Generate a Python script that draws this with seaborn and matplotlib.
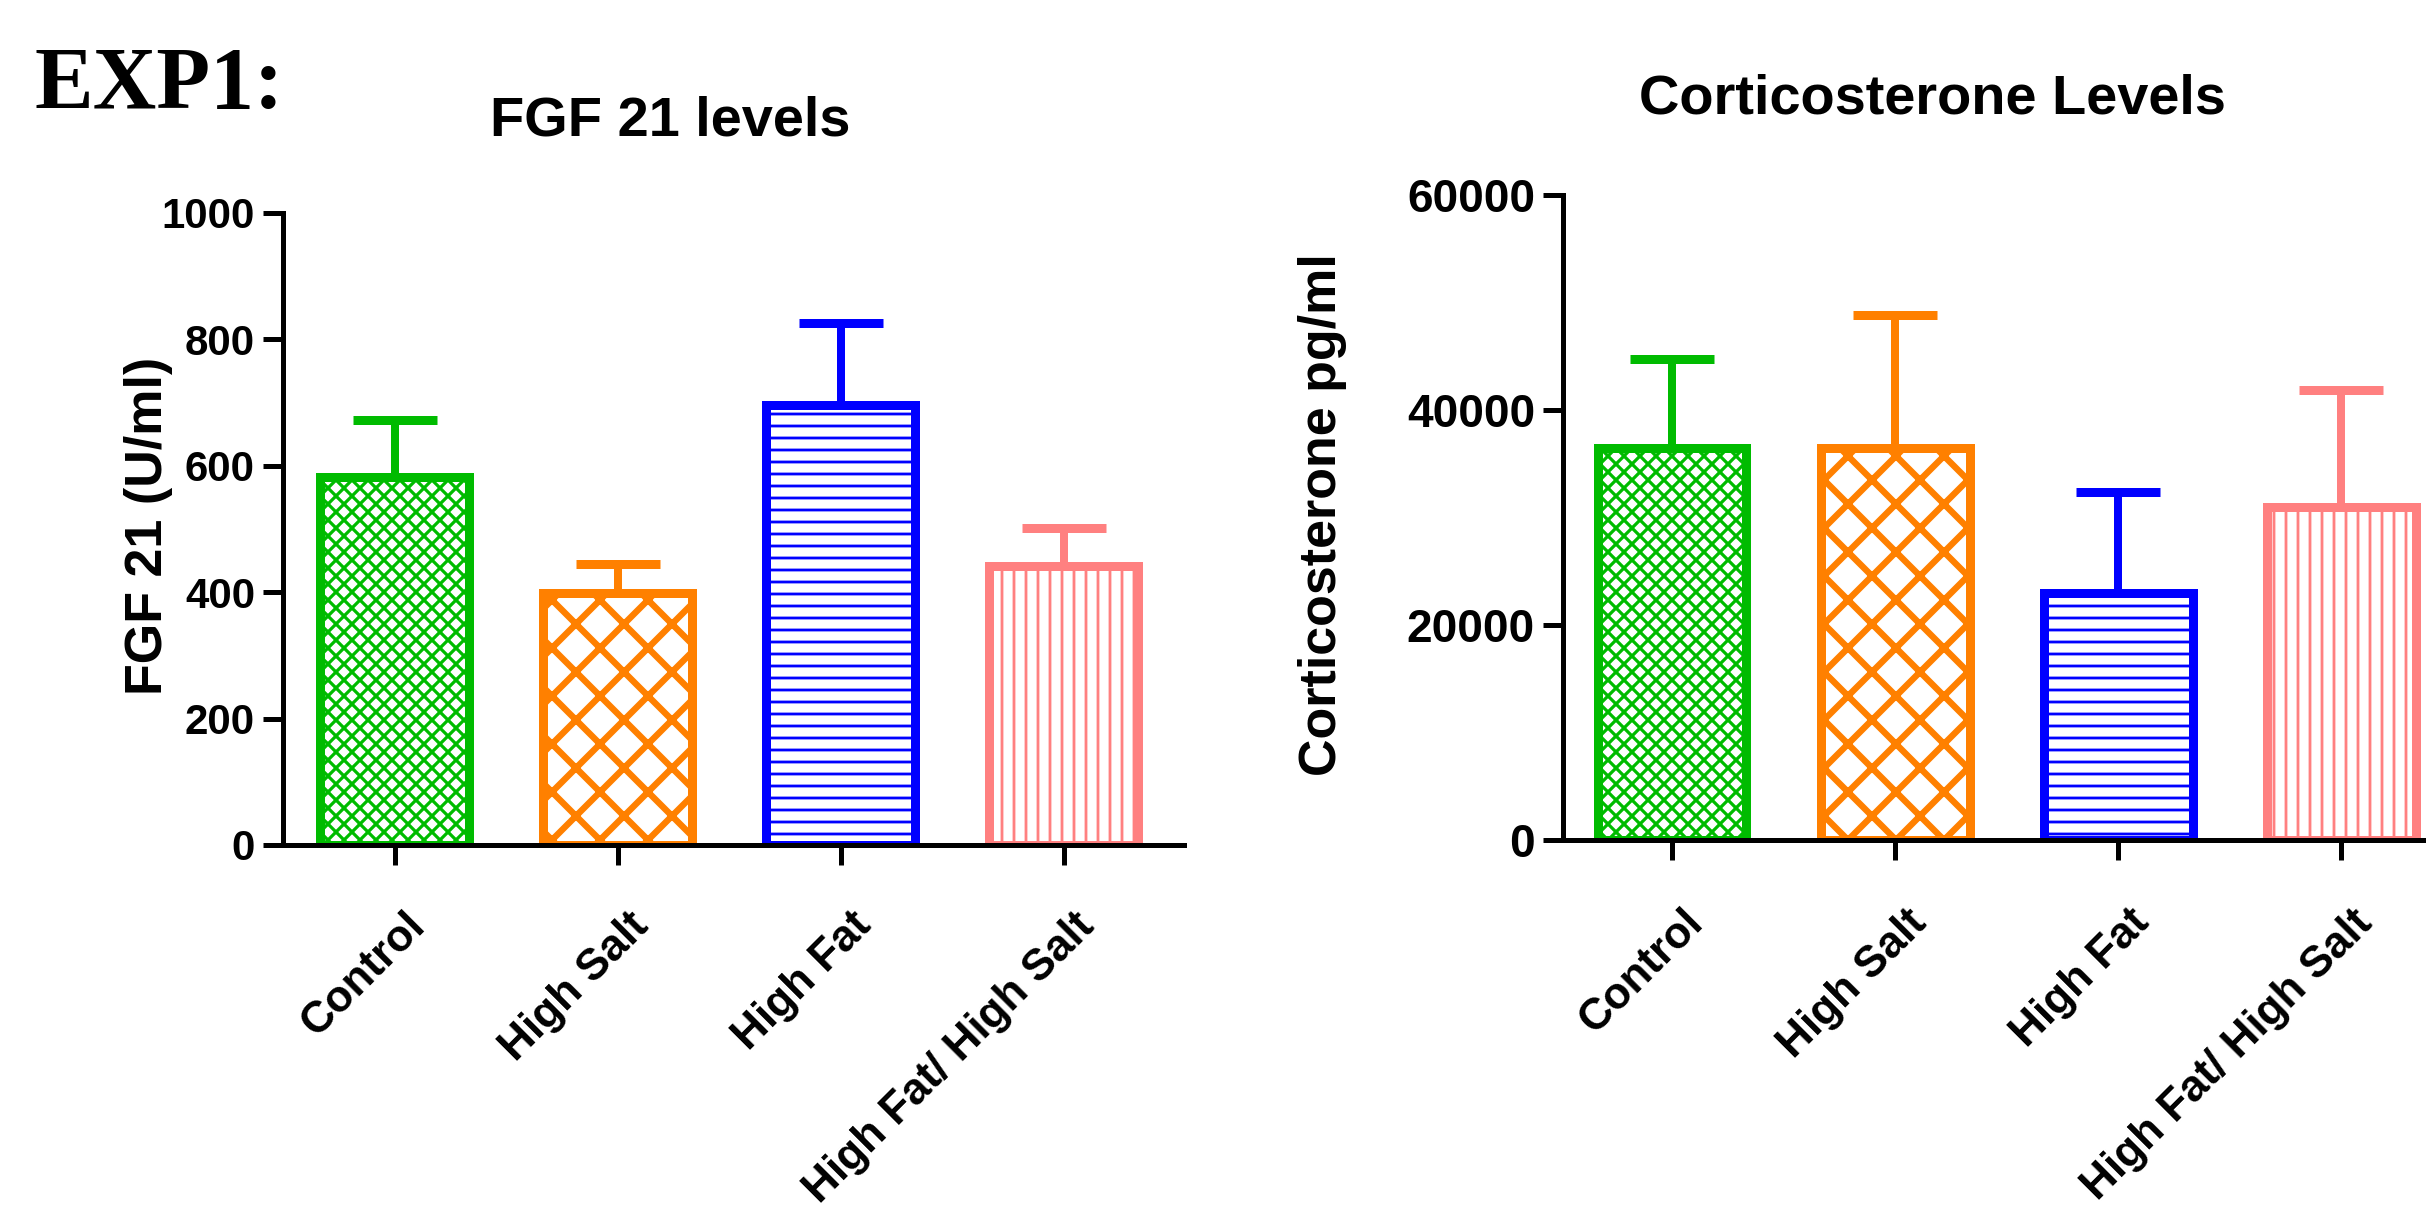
import numpy as np
import pandas as pd
import matplotlib
matplotlib.use('Agg')
import matplotlib.pyplot as plt
import matplotlib.transforms as mtrans
import seaborn as sns

# data
groups = ['Control', 'High Salt', 'High Fat', 'High Fat/ High Salt']
fgf21_mean = [582, 398, 696, 442]
fgf21_sem = [91, 47, 130, 60]
cort_mean = [36500, 36500, 23000, 31000]
cort_sem = [8200, 12300, 9400, 10900]
fgf21_ticks = [0, 200, 400, 600, 800, 1000]
cort_ticks = [0, 20000, 40000, 60000]

colors = ['#00BB00', '#FF8000', '#0000FF', '#FF8080']
hatches = ['xxx', 'x', '--', '||']
hatch_lw = [1.6, 3.2, 1.4, 1.4]

sns.set_style('ticks')
plt.rcParams['font.family'] = ['Liberation Sans', 'DejaVu Sans']
plt.rcParams['font.weight'] = 'bold'
plt.rcParams['axes.labelweight'] = 'bold'
plt.rcParams['hatch.linewidth'] = 1.6
for k in ['text.color', 'axes.labelcolor', 'xtick.color', 'ytick.color', 'axes.edgecolor']:
    plt.rcParams[k] = 'black'

df = pd.DataFrame({'group': groups, 'fgf21': fgf21_mean, 'cort': cort_mean})

W, H, DPI = 2426, 1212, 144
fig = plt.figure(figsize=(W / DPI, H / DPI), dpi=DPI)
ax1 = fig.add_axes([283 / W, (H - 845) / H, 901 / W, 632 / H])
ax2 = fig.add_axes([1563 / W, (H - 840) / H, 890 / W, 645 / H])


def draw_panel(ax, col, sem, ticks, title, ylabel, title_xy, ylab_xy, xlim, tick_fs, xpad):
    sns.barplot(data=df, x='group', y=col, hue='group', order=groups, hue_order=groups,
                palette=colors, fill=False, linewidth=4.5, width=0.665, errorbar=None,
                legend=False, ax=ax)
    for i, p in enumerate(ax.patches):
        p.set_hatch(hatches[i])
        p.set_joinstyle('miter')
        if hasattr(p, 'set_hatch_linewidth'):
            p.set_hatch_linewidth(hatch_lw[i])
    for i, (m, e) in enumerate(zip(df[col], sem)):
        ax.errorbar(i, m, yerr=[[0], [e]], fmt='none', ecolor=colors[i],
                    elinewidth=4, capsize=21, capthick=4.5, zorder=3)
    ax.set_xlim(*xlim)
    ax.set_ylim(ticks[0], ticks[-1])
    ax.set_yticks(ticks)
    sns.despine(ax=ax)
    for s in ['left', 'bottom']:
        ax.spines[s].set_linewidth(2.5)
        ax.spines[s].set_color('black')
    ax.tick_params(axis='both', direction='out', length=10, width=2.5, color='black',
                   labelcolor='black')
    ax.tick_params(axis='y', labelsize=tick_fs, pad=4)
    ax.tick_params(axis='x', labelsize=22, pad=xpad)
    ax.set_xticks(range(len(groups)))
    ax.set_xticklabels(groups, rotation=45, ha='right', va='top', rotation_mode='anchor')
    off = mtrans.ScaledTranslation(5 / 72, 0, fig.dpi_scale_trans)
    for lab in ax.get_xticklabels():
        lab.set_transform(lab.get_transform() + off)
    ax.set_xlabel('')
    ax.set_ylabel(ylabel, fontsize=26, va='center')
    ax.yaxis.set_label_coords(*ylab_xy)
    ax.text(title_xy[0], title_xy[1], title, transform=ax.transAxes, ha='center',
            va='baseline', fontsize=28, fontweight='bold')


draw_panel(ax1, 'fgf21', fgf21_sem, fgf21_ticks, 'FGF 21 levels', 'FGF 21 (U/ml)',
           (0.43, 1.122), (-0.149, 0.505), (-0.5, 3.54), 21, 20)
draw_panel(ax2, 'cort', cort_sem, cort_ticks, 'Corticosterone Levels', 'Corticosterone pg/ml',
           (0.415, 1.127), (-0.270, 0.505), (-0.49, 3.5), 23, 21)

fig.text(34 / W, (H - 108) / H, 'EXP1:', family=['Liberation Serif', 'DejaVu Serif'],
         fontweight='bold', fontsize=44, ha='left', va='baseline', color='black')

fig.savefig('out.png', dpi=DPI, facecolor='white')
